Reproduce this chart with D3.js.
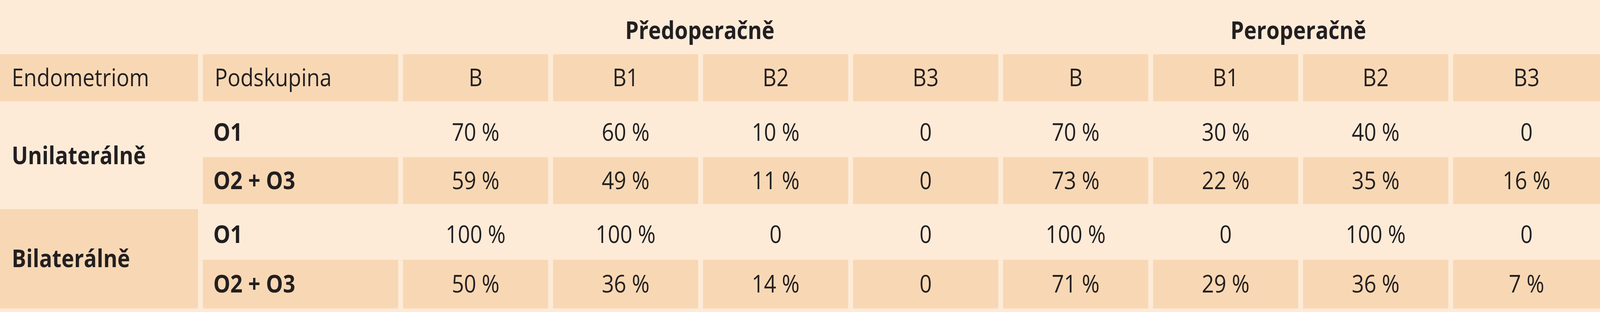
<!DOCTYPE html>
<html><head><meta charset="utf-8">
<script src="https://cdn.jsdelivr.net/npm/d3@7/dist/d3.min.js"></script>
<style>html,body{margin:0;padding:0;overflow:hidden;background:#fdebd8}svg{display:block;width:100vw;height:100vh}</style></head>
<body><svg id="c" viewBox="0 0 4629 800" preserveAspectRatio="none"></svg>
<script>
const groups = ["Předoperačně","Peroperačně"];
const subCols = ["B","B1","B2","B3"];
const endometriom = ["Unilaterálně","Bilaterálně"];
const subgroups = ["O1","O2 + O3"];
const values = [
  ["70 %","60 %","10 %","0","70 %","30 %","40 %","0"],
  ["59 %","49 %","11 %","0","73 %","22 %","35 %","16 %"],
  ["100 %","100 %","0","0","100 %","0","100 %","0"],
  ["50 %","36 %","14 %","0","71 %","29 %","36 %","7 %"]
];
const W=4629, LIGHT="#fdebd8", DARK="#f8d8b4", TXT="#231f20";
const FONT="'Liberation Sans Narrow','Open Sans',sans-serif";
const svg=d3.select("#c");
svg.append("rect").attr("width",W).attr("height",800).attr("fill",LIGHT);
const colStart=[0,587].concat(d3.range(8).map(i=>1166+434*i));
const colEnd=[573,1152].concat(d3.range(8).map(i=>i==7?W:1166+434*i+420));
const x0=i=>colStart[i], x1=i=>colEnd[i];
const rowY=[[139,260],[275,403],[403,523],[536,666],[666,791]];
const bg=svg.append("g"), fg=svg.append("g");
for(let i=0;i<10;i++) bg.append("rect").attr("x",x0(i)).attr("y",rowY[0][0]).attr("width",x1(i)-x0(i)).attr("height",rowY[0][1]-rowY[0][0]).attr("fill",DARK);
const g0=d3.scaleBand().domain(groups).range([1166,W]);
groups.forEach(g=>fg.append("text").attr("x",g0(g)+g0.bandwidth()/2-7).attr("y",100).attr("text-anchor","middle")
  .attr("font-family",FONT).attr("font-weight","bold").attr("font-size",62).attr("fill",TXT).text(g));
const hdr=["Endometriom","Podskupina"].concat(groups.flatMap(()=>subCols));
hdr.forEach((t,i)=>fg.append("text").attr("x",i<2?x0(i)+34:(x0(i)+x1(i))/2).attr("y",(rowY[0][0]+rowY[0][1])/2+22)
  .attr("text-anchor",i<2?"start":"middle").attr("font-family",FONT).attr("font-size",62).attr("fill",TXT).text(t));
values.forEach((row,r)=>{
  const [ya,yb]=rowY[r+1];
  if(r%2==1) for(let i=1;i<10;i++) bg.append("rect").attr("x",x0(i)).attr("y",ya).attr("width",x1(i)-x0(i)).attr("height",yb-ya).attr("fill",DARK);
  fg.append("text").attr("x",x0(1)+30).attr("y",(ya+yb)/2+22).attr("font-family",FONT).attr("font-weight","bold").attr("font-size",62).attr("fill",TXT).text(subgroups[r%2]);
  row.forEach((v,c)=>fg.append("text").attr("x",(x0(c+2)+x1(c+2))/2).attr("y",(ya+yb)/2+22).attr("text-anchor","middle")
    .attr("font-family",FONT).attr("font-size",62).attr("fill",TXT).text(v));
});
endometriom.forEach((e,k)=>{
  const ya=rowY[1+2*k][0], yb=rowY[2+2*k][1];
  if(k==1) bg.append("rect").attr("x",0).attr("y",ya).attr("width",x1(0)).attr("height",yb-ya).attr("fill",DARK);
  fg.append("text").attr("x",34).attr("y",(ya+yb)/2+22).attr("font-family",FONT).attr("font-weight","bold").attr("font-size",62).attr("fill",TXT).text(e);
});
</script></body></html>
